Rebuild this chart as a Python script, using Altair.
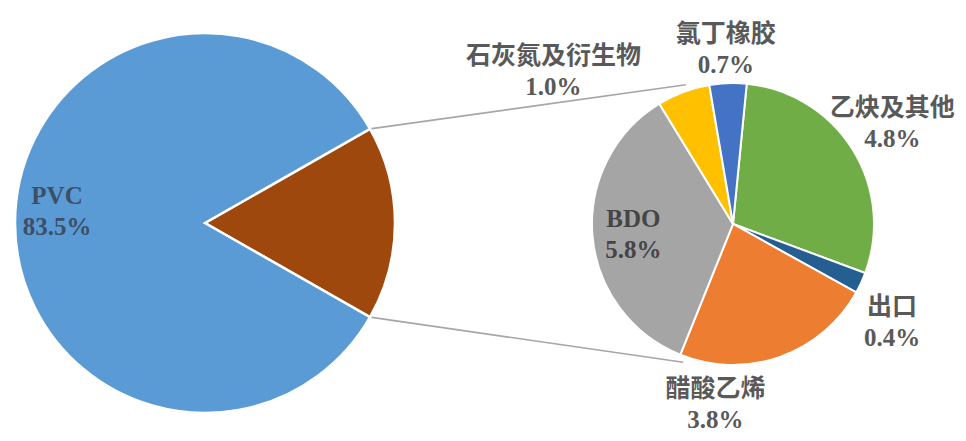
import math
import altair as alt
import pandas as pd

# ---------------- data ----------------
main_categories = ["其他", "PVC"]          # "其他" = split-out slice, detailed on the right
main_values = [16.5, 83.5]
main_colors = ["#9E480E", "#5B9BD5"]

sub_categories = ["乙炔及其他", "出口", "醋酸乙烯", "BDO", "石灰氮及衍生物", "氯丁橡胶"]
sub_values = [4.8, 0.4, 3.8, 5.8, 1.0, 0.7]
sub_colors = ["#70AD47", "#255E91", "#ED7D31", "#A5A5A5", "#FFC000", "#4472C4"]

# ---------------- layout ----------------
W, H = 950, 425
LX, LY, LR = 197, 215, 190          # main pie centre / radius
RX, RY, RR = 725, 216, 141          # secondary pie centre / radius
RIGHT_START = 5.6                   # degrees clockwise from 12 o'clock
FONT = "Liberation Serif, Noto Sans CJK SC"
FS = 25
LH = 31

# label placement: (radius, dx, dy) relative to slice middle (block centre)
LABEL_PLACE = {
    "PVC": (148, 0, -12),
    "其他": (148, 0, 0),
    "乙炔及其他": (175, 11, -8),
    "出口": (175, 0, 25),
    "醋酸乙烯": (175, -76, 16),
    "BDO": (100, 0, 2),
    "石灰氮及衍生物": (175, -118, 11),
    "氯丁橡胶": (175, -1, 0),
}
# connector end angles / radius on the secondary pie
CONN_RIGHT = [(341.3, 147), (199.8, 147)]


def make_df(cats, vals, hide=()):
    rows = []
    for i, (c, v) in enumerate(zip(cats, vals)):
        r, dx, dy = LABEL_PLACE[c]
        rows.append({
            "cat": c, "value": v, "idx": i,
            "label": "" if c in hide else f"{c}\n{v:.1f}%",
            "lr": r, "ndx": dx, "ndy": dy - LH / 2,
        })
    return pd.DataFrame(rows)


def pie(df, colors, start_deg, cx, cy, r, stroke_w, text_color_expr):
    a0 = math.radians(start_deg)
    theta = alt.Theta("value:Q", stack=True,
                      scale=alt.Scale(range=[a0, a0 + 2 * math.pi]))
    base = alt.Chart(df).encode(theta=theta, order=alt.Order("idx:Q"))
    arcs = base.mark_arc(outerRadius=r, stroke="white", strokeWidth=stroke_w).encode(
        x=alt.value(cx), y=alt.value(cy),
        color=alt.Color("cat:N", scale=alt.Scale(domain=list(df["cat"]), range=colors),
                        legend=None),
    )
    text = base.mark_text(
        font=FONT, fontSize=FS, fontWeight="bold", lineBreak="\n", lineHeight=LH,
        align="center", baseline="middle",
        radius={"expr": "datum.lr"},
        dx={"expr": "datum.ndx"}, dy={"expr": "datum.ndy"},
        fill={"expr": text_color_expr},
    ).encode(
        x=alt.value(cx), y=alt.value(cy),
        text="label:N",
    )
    return alt.layer(arcs, text)


main_df = make_df(main_categories, main_values, hide=("其他",))
sub_df = make_df(sub_categories, sub_values)

left_start = 90 - 0.5 * 360 * main_values[0] / sum(main_values)
split_span = 360 * main_values[0] / sum(main_values)

left = pie(main_df, main_colors, left_start, LX, LY, LR, 2.5, "'#3D4F66'")
right = pie(sub_df, sub_colors, RIGHT_START, RX, RY, RR, 2,
            "datum.cat == 'BDO' ? '#454545' : '#595959'")

# connector lines from the split slice edges to the secondary pie
def pt(cx, cy, r, deg):
    a = math.radians(deg)
    return cx + r * math.sin(a), cy - r * math.cos(a)

lines = []
for ang_l, (ang_r, rr) in zip([left_start, left_start + split_span], CONN_RIGHT):
    x1, y1 = pt(LX, LY, LR, ang_l)
    x2, y2 = pt(RX, RY, rr, ang_r)
    lines.append({"x": x1, "y": y1, "x2": x2, "y2": y2})
lines_df = pd.DataFrame(lines)

conn = alt.Chart(lines_df).mark_rule(color="#A6A6A6", strokeWidth=1.6).encode(
    x=alt.X("x:Q", scale=None, axis=None),
    y=alt.Y("y:Q", scale=None, axis=None),
    x2="x2:Q", y2="y2:Q",
)

chart = alt.layer(conn, left, right).resolve_scale(
    theta="independent", color="independent"
).properties(
    width=W, height=H, padding=0, autosize="none", background="white"
).configure_view(stroke=None)

chart.save("out.html", embed_options={"renderer": "svg", "actions": False})
